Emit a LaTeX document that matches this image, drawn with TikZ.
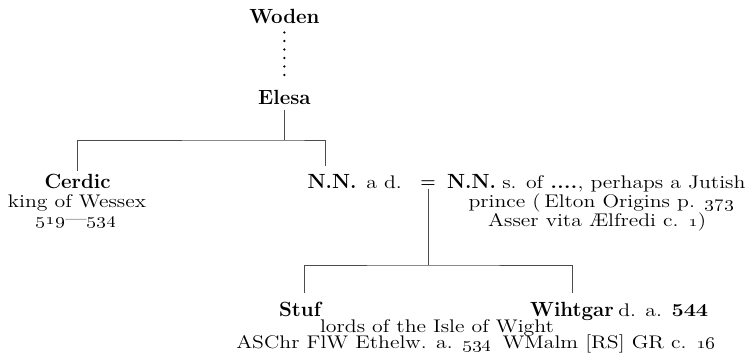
\documentclass[tikz,border=0pt]{standalone}
\usepackage{tikz}
\usepackage{graphicx}
\usetikzlibrary{positioning,calc}

% old print: small but wide letters
\newcommand{\stretchtext}[1]{\scalebox{1.19}[1]{#1}}

\begin{document}
\begin{tikzpicture}[
    person/.style={font=\fontsize{14.6}{16}\selectfont\bfseries, inner sep=2pt, anchor=base},
    note/.style={font=\fontsize{13}{15}\selectfont, inner sep=0pt, anchor=base},
    link/.style={line width=0.6pt, black!70},
]
    \useasboundingbox (0,0) rectangle (18.9,-9.025);

    % Woden down to Elesa
    \node[person] (woden) at (7.11,-0.575) {Woden};
    \node[person] (elesa) at (7.11,-2.6) {Elesa};
    \draw[line width=1.8pt, line cap=round, dash pattern=on 0pt off 0.2125cm,
          shorten <=4.4pt, shorten >=2.8pt] (woden) -- (elesa);

    % Elesa's children
    \coordinate (elesabar) at (7.11,-3.5);
    \node[person] (cerdic) at (1.94,-4.7) {Cerdic};
    \node[note] (cerdicking) at (1.925,-5.175) {\stretchtext{king of Wessex}};
    \node[note] (cerdicyears) at (1.9,-5.6) {\stretchtext{\oldstylenums{519}---\oldstylenums{534}}};
    \node[person] (nnwife) at (8.3,-4.7) {N.N.};
    \node[note, anchor=base west] (nnwifenote) at (9.15,-4.7) {\stretchtext{a d.}};
    \draw[link, shorten <=2pt] (elesa) -- (elesabar);
    \draw[link, shorten >=3.5pt] (cerdic) |- (elesabar) -| ([xshift=-0.175cm]nnwife.north);

    % Marriage
    \node[font=\fontsize{12.5}{14}\selectfont\bfseries, inner sep=1pt, anchor=base] (wed) at (10.7,-4.675) {=};
    \node[person] (nnhusband) at (11.79,-4.7) {N.N.};
    \node[note, anchor=base west] (nnhusbandnote) at (12.55,-4.7) {\stretchtext{s. of \textbf{....}, perhaps a Jutish}};
    \node[note] (nnhusbandprince) at (15.03,-5.175) {\stretchtext{prince (\,Elton Origins p. \oldstylenums{373}}};
    \node[note] (nnhusbandasser) at (14.93,-5.65) {\stretchtext{Asser vita Ælfredi c. \oldstylenums{1})}};

    % Their sons
    \coordinate (sonsbar) at (10.7,-6.625);
    \node[person] (stuf) at (7.5,-7.9) {Stuf};
    \node[person] (wihtgar) at (14.3,-7.9) {Wihtgar};
    \node[note, anchor=base west] (wihtgardeath) at (15.45,-7.9) {\stretchtext{d. a. \textbf{544}}};
    \node[note] (sonslords) at (10.925,-8.3) {\stretchtext{lords of the Isle of Wight}};
    \node[note] (sonssources) at (11.9,-8.7) {\stretchtext{ASChr FlW Ethelw. a. \oldstylenums{534}\enspace WMalm [RS] GR c. \oldstylenums{16}}};
    \draw[link] (wed) -- (sonsbar);
    \draw[link, shorten <=4.3pt, shorten >=4.3pt] ([xshift=0.1cm]stuf.north) |- (sonsbar) -| (wihtgar.north);
\end{tikzpicture}
\end{document}
